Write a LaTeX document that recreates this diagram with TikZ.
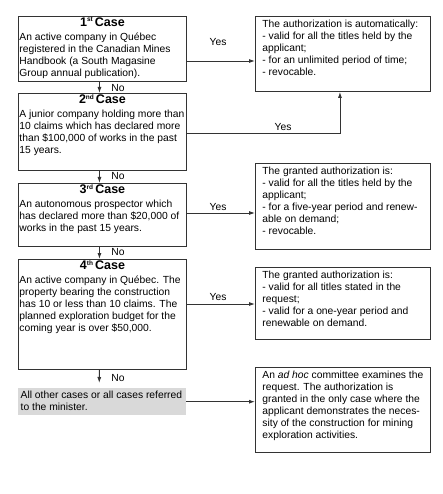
\documentclass[tikz,border=0pt]{standalone}
\usepackage{fontspec}
\setmainfont{Liberation Sans}
\usetikzlibrary{arrows.meta}
\definecolor{boxline}{HTML}{333333}
\definecolor{otherfill}{HTML}{D9D9D9}
\newcommand{\bodyfont}{\fontsize{10.3}{12}\selectfont}
\newcommand{\headfont}{\fontsize{12.5}{14}\selectfont\bfseries}
% height, ordinal, suffix, lines
\newcommand{\casetext}[4]{\parbox[c][#1][t]{168pt}{\vspace*{1pt}\centering{\headfont #2\raisebox{4.2pt}{\fontsize{6.5}{7}\selectfont #3}\,Case}\par\vspace{2pt}\raggedright\hspace*{1pt}\begin{tabular}[t]{@{}l@{}}#4\end{tabular}}}
% height, lines
\newcommand{\resulttext}[2]{\parbox[c][#1][t]{175pt}{\vspace*{3pt}\hspace*{7pt}\begin{tabular}[t]{@{}l@{}}#2\end{tabular}}}
\tikzset{
  casebox/.style={draw=boxline,line width=0.9pt,anchor=north west,inner sep=0pt,font=\bodyfont},
  resultbox/.style={casebox},
  otherbox/.style={fill=otherfill,anchor=north west,inner sep=0pt,font=\bodyfont},
  conn/.style={draw=boxline,line width=0.9pt,->},
  answer/.style={font=\bodyfont}
}

\begin{document}
\begin{tikzpicture}[x=1pt,y=-1pt,>={Latex[length=6pt,width=4pt]}]
  \useasboundingbox (0,0) rectangle (442,494);

  % Cases
  \node[casebox] (c1) at (18,16) {\casetext{65pt}{1}{st}{An active company in Québec\\registered in the Canadian Mines\\Handbook (a South Magasine\\Group annual publication).}};
  \node[casebox] (c2) at (18,93) {\casetext{77pt}{2}{nd}{A junior company holding more than\\10 claims which has declared more\\than \$100,000 of works in the past\\15 years.}};
  \node[casebox] (c3) at (18,183) {\casetext{63pt}{3}{rd}{An autonomous prospector which\\has declared more than \$20,000 of\\works in the past 15 years.}};
  \node[casebox] (c4) at (18,259) {\casetext{110pt}{4}{th}{An active company in Québec. The\\property bearing the construction\\has 10 or less than 10 claims. The\\planned exploration budget for the\\coming year is over \$50,000.}};
  \node[otherbox] (other) at (18,388) {\parbox[c][27pt][t]{168pt}{\vspace*{2.3pt}\hspace*{2.5pt}\begin{tabular}[t]{@{}l@{}}All other cases or all cases referred\\to the minister.\end{tabular}}};

  % Authorizations
  \node[resultbox] (r1) at (255,16) {\resulttext{75pt}{The authorization is automatically:\\- valid for all the titles held by the\\applicant;\\- for an unlimited period of time;\\- revocable.}};
  \node[resultbox] (r2) at (255,163) {\resulttext{86pt}{The granted authorization is:\\- valid for all the titles held by the\\applicant;\\- for a five-year period and renew-\\able on demand;\\- revocable.}};
  \node[resultbox] (r3) at (255,267) {\resulttext{72pt}{The granted authorization is:\\- valid for all titles stated in the\\request;\\- valid for a one-year period and\\renewable on demand.}};
  \node[resultbox] (r4) at (255,367) {\resulttext{85pt}{An \textit{ad hoc} committee examines the\\request. The authorization is\\granted in the only case where the\\applicant demonstrates the neces-\\sity of the construction for mining\\exploration activities.}};

  % Yes
  \draw[conn] (c1.east |- 0,61) -- (r1.west |- 0,61);
  \draw[conn] (c2.east |- 0,133) -| ([xshift=-3pt]r1.south);
  \draw[conn] (c3.east |- 0,213) -- (r2.west |- 0,213);
  \draw[conn] (c4.east |- 0,304) -- (r3.west |- 0,304);
  \draw[conn] (other.east) -- (r4.west |- other.east);
  \node[answer] (y1) at (218,42) {Yes};
  \node[answer] (y2) at (283,127) {Yes};
  \node[answer] (y3) at (218,207) {Yes};
  \node[answer] (y4) at (218,297) {Yes};

  % No
  \draw[conn] ([xshift=-3pt]c1.south) -- ([xshift=-3pt]c2.north);
  \draw[conn] ([xshift=-3pt]c2.south) -- ([xshift=-3pt]c3.north);
  \draw[conn] ([xshift=-3pt]c3.south) -- ([xshift=-3pt]c4.north);
  \draw[conn] ([xshift=-3pt]c4.south) -- ([xshift=-3pt,yshift=5pt]other.north);
  \node[answer] (n1) at (118,88) {No};
  \node[answer] (n2) at (118,176) {No};
  \node[answer] (n3) at (118,252) {No};
  \node[answer] (n4) at (118,378) {No};
\end{tikzpicture}
\end{document}
